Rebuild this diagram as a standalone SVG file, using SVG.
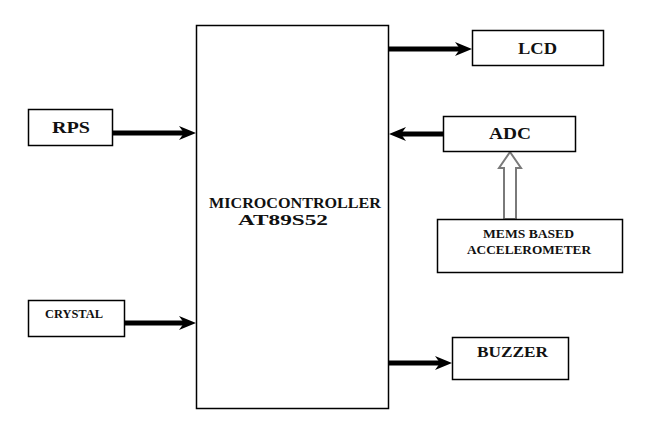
<svg xmlns="http://www.w3.org/2000/svg" width="657" height="445" viewBox="0 0 657 445">
<style>
.box{fill:#fff;stroke:#000;stroke-width:1.5}
.t{font-family:"Liberation Serif","Times New Roman",serif;font-weight:bold;fill:#111;text-anchor:middle}
.arr{stroke:#000;stroke-width:5;fill:none}
.hollow{fill:#fff;stroke:#7a7a7a;stroke-width:2}
</style>
<defs>
<marker id="ah" markerUnits="userSpaceOnUse" markerWidth="17" markerHeight="14" refX="9" refY="7" orient="auto">
<path d="M0,0 L17,7 L0,14 L5,7 z" fill="#000"/>
</marker>
</defs>
<rect width="657" height="445" fill="#fff"/>
<g id="connectors">
<line class="arr" x1="112" y1="133" x2="188" y2="133" marker-end="url(#ah)"/>
<line class="arr" x1="124" y1="323" x2="188" y2="323" marker-end="url(#ah)"/>
<line class="arr" x1="389" y1="49" x2="464" y2="49" marker-end="url(#ah)"/>
<line class="arr" x1="443" y1="134" x2="397" y2="134" marker-end="url(#ah)"/>
<line class="arr" x1="389" y1="363" x2="444" y2="363" marker-end="url(#ah)"/>
<polygon class="hollow" points="504,219 504,168 499,168 510,152 521,168 516,168 516,219"/>
</g>
<g id="mcu">
<rect class="box" x="196.5" y="25.5" width="192" height="383"/>
<text class="t" x="295" y="208" font-size="15" textLength="172" lengthAdjust="spacingAndGlyphs">MICROCONTROLLER</text>
<text class="t" x="283" y="225" font-size="15" textLength="90" lengthAdjust="spacingAndGlyphs">AT89S52</text>
</g>
<g id="lcd">
<rect class="box" x="472.5" y="30.5" width="131" height="35"/>
<text class="t" x="537.5" y="54" font-size="16" textLength="39" lengthAdjust="spacingAndGlyphs">LCD</text>
</g>
<g id="adc">
<rect class="box" x="443.5" y="116.5" width="132" height="35"/>
<text class="t" x="510" y="139" font-size="16" textLength="42" lengthAdjust="spacingAndGlyphs">ADC</text>
</g>
<g id="rps">
<rect class="box" x="28.5" y="109.5" width="84" height="36"/>
<text class="t" x="71" y="133" font-size="16" textLength="38" lengthAdjust="spacingAndGlyphs">RPS</text>
</g>
<g id="crystal">
<rect class="box" x="28.5" y="300.5" width="96" height="36"/>
<text class="t" x="74" y="318" font-size="12" textLength="58" lengthAdjust="spacingAndGlyphs">CRYSTAL</text>
</g>
<g id="mems">
<rect class="box" x="437.5" y="219.5" width="185" height="53"/>
<text class="t" x="528.5" y="238" font-size="12.5" textLength="91" lengthAdjust="spacingAndGlyphs">MEMS BASED</text>
<text class="t" x="529" y="254" font-size="12.5" textLength="124" lengthAdjust="spacingAndGlyphs">ACCELEROMETER</text>
</g>
<g id="buzzer">
<rect class="box" x="452.5" y="337.5" width="116" height="42"/>
<text class="t" x="512.5" y="357" font-size="14.5" textLength="71" lengthAdjust="spacingAndGlyphs">BUZZER</text>
</g>
</svg>
